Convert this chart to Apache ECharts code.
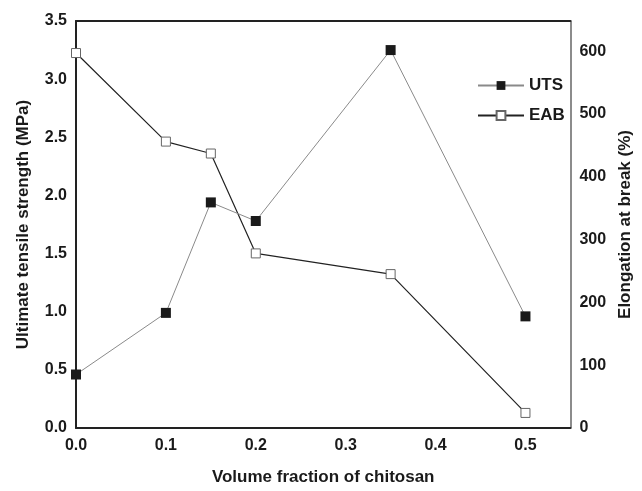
<!DOCTYPE html>
<html>
<head>
<meta charset="utf-8">
<title>UTS / EAB</title>
<script src="https://cdn.jsdelivr.net/npm/echarts@6/dist/echarts.min.js"></script>
<style>
	html, body { margin: 0; padding: 0; background: #fff; }
	#chart { width: 642px; height: 491px; }
</style>
</head>
<body>
<div id="chart"></div>
<script>
	// 数据
	var fraction = [0.0, 0.1, 0.15, 0.2, 0.35, 0.5]
	var utsData = [0.46, 0.99, 1.94, 1.78, 3.25, 0.96]   // MPa
	var eabData = [597, 456, 437, 278, 245, 24]          // %
	var xTicks = [0.0, 0.1, 0.2, 0.3, 0.4, 0.5]

	var font = 'Liberation Sans, Arial, sans-serif'
	var txt = '#1a1a1a'

	function pairs(xs, ys) {
		return xs.map(function (x, i) { return [x, ys[i]] })
	}

	var myChart = echarts.init(document.getElementById('chart'))
	var option = {
		animation: false,
		textStyle: { fontFamily: font },
		grid: {
			left: 76,
			right: 58,
			top: 21,
			bottom: 60
		},
		legend: {
			orient: 'vertical',
			left: 472,
			top: 72,
			itemWidth: 46,
			itemHeight: 11,
			itemGap: 13,
			textStyle: { color: txt, fontSize: 17, fontWeight: 'bold', fontFamily: font },
			data: ['UTS', 'EAB']
		},
		xAxis: [{
			type: 'value',
			min: 0,
			max: 0.55,
			interval: 0.1,
			name: 'Volume fraction of chitosan',
			nameLocation: 'middle',
			nameGap: 41,
			nameTextStyle: { color: txt, fontSize: 17, fontWeight: 'bold' },
			axisLine: { show: true, onZero: false, lineStyle: { color: '#222', width: 2 } },
			axisTick: { show: false },
			splitLine: { show: false },
			axisLabel: {
				color: txt, fontSize: 16, fontWeight: 'bold', margin: 10,
				showMaxLabel: false,
				formatter: function (v) {
					return xTicks.indexOf(Math.round(v * 10) / 10) > -1 ? v.toFixed(1) : ''
				}
			}
		}, {
			// 顶部边框
			type: 'value',
			position: 'top',
			min: 0,
			max: 0.55,
			axisLine: { show: true, onZero: false, lineStyle: { color: '#222', width: 2 } },
			axisTick: { show: false },
			axisLabel: { show: false },
			splitLine: { show: false }
		}],
		yAxis: [{
			type: 'value',
			min: 0,
			max: 3.5,
			interval: 0.5,
			name: 'Ultimate tensile strength (MPa)',
			nameLocation: 'middle',
			nameGap: 44,
			nameTextStyle: { color: txt, fontSize: 17, fontWeight: 'bold' },
			axisLine: { show: true, onZero: false, lineStyle: { color: '#222', width: 2 } },
			axisTick: { show: false },
			splitLine: { show: false },
			axisLabel: {
				color: txt, fontSize: 16, fontWeight: 'bold', margin: 9,
				formatter: function (v) { return v.toFixed(1) }
			}
		}, {
			type: 'value',
			position: 'right',
			min: 0,
			max: 648,
			interval: 100,
			name: 'Elongation at break (%)',
			nameLocation: 'middle',
			nameGap: 30,
			nameTextStyle: { color: txt, fontSize: 17, fontWeight: 'bold' },
			axisLine: { show: true, onZero: false, lineStyle: { color: '#666', width: 1.5 } },
			axisTick: { show: false },
			splitLine: { show: false },
			axisLabel: {
				color: txt, fontSize: 16, fontWeight: 'bold', margin: 9,
				showMaxLabel: false
			}
		}],
		series: [{
			name: 'UTS',
			type: 'line',
			yAxisIndex: 0,
			data: pairs(fraction, utsData),
			symbol: 'rect',
			symbolSize: 10,
			lineStyle: { color: '#8a8a8a', width: 1 },
			itemStyle: { color: '#1a1a1a', borderColor: '#1a1a1a', borderWidth: 0 },
			z: 3
		}, {
			name: 'EAB',
			type: 'line',
			yAxisIndex: 1,
			data: pairs(fraction, eabData),
			symbol: 'rect',
			symbolSize: 9,
			lineStyle: { color: '#222', width: 1.2 },
			itemStyle: { color: '#fff', borderColor: '#666', borderWidth: 1 },
			z: 2
		}]
	}
	myChart.setOption(option, true)
</script>
</body>
</html>
